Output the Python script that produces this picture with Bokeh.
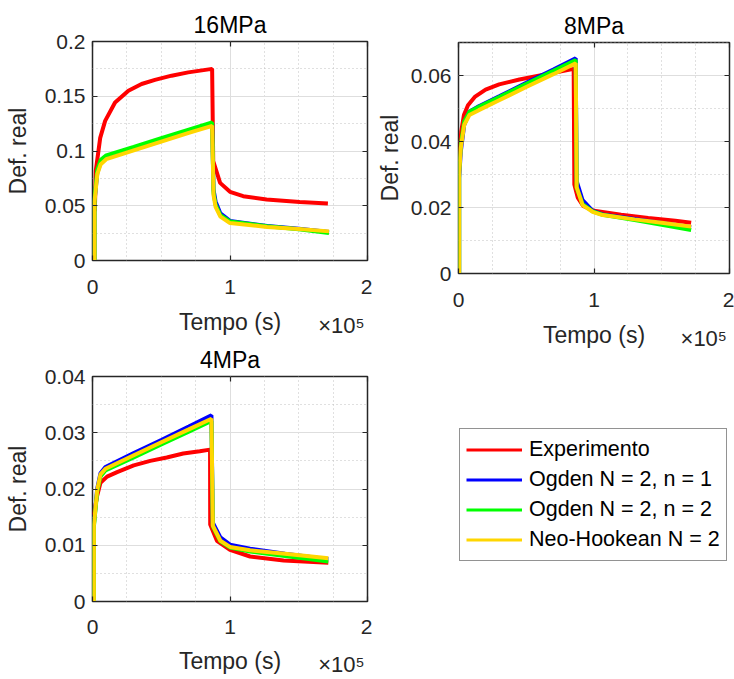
from bokeh.plotting import figure
from bokeh.layouts import row, column
from bokeh.models import (Range1d, SingleIntervalTicker, FixedTicker, LinearAxis,
                          Legend, LegendItem, CustomJSTickFormatter)
from bokeh.embed import file_html
from bokeh.resources import INLINE

# ---------------- data (time in units of 1e5 s) ----------------
series_names = ["Experimento", "Ogden N = 2, n = 1", "Ogden N = 2, n = 2", "Neo-Hookean N = 2"]
series_colors = ["#FF0000", "#0000FF", "#00FF00", "#FFD600"]

# 16 MPa
t16_exp = [0.017, 0.024, 0.056, 0.092, 0.164, 0.261, 0.357, 0.454, 0.575, 0.696, 0.87,
           0.878, 0.928, 1.0, 1.096, 1.266, 1.507, 1.712]
y16_exp = [0.045, 0.082, 0.112, 0.1275, 0.1443, 0.155, 0.1612, 0.1649, 0.1688, 0.1718, 0.175,
           0.0908, 0.0709, 0.0627, 0.0587, 0.0557, 0.0535, 0.052]
t16_mod = [0.015, 0.015, 0.035, 0.06, 0.1, 0.3, 0.5, 0.7, 0.87,
           0.88, 0.895, 0.93, 1.0, 1.27, 1.5, 1.72]
y16_og1 = [0, 0.055, 0.080, 0.090, 0.095, 0.1027, 0.1105, 0.1183, 0.125,
           0.065, 0.054, 0.043, 0.0362, 0.0315, 0.029, 0.026]
y16_og2 = [0, 0.057, 0.083, 0.092, 0.096, 0.1038, 0.1117, 0.1195, 0.126,
           0.062, 0.051, 0.0415, 0.0357, 0.0312, 0.0285, 0.0252]
y16_neo = [0, 0.054, 0.079, 0.088, 0.0925, 0.1005, 0.1085, 0.1165, 0.123,
           0.060, 0.049, 0.040, 0.0342, 0.0306, 0.0287, 0.0266]

# 8 MPa
t8_exp = [0.005, 0.02, 0.04, 0.07, 0.12, 0.2, 0.3, 0.45, 0.6, 0.75, 0.85,
          0.855, 0.88, 0.92, 1.0, 1.2, 1.4, 1.6, 1.717]
y8_exp = [0.034, 0.043, 0.048, 0.051, 0.0535, 0.0557, 0.0573, 0.0588, 0.060, 0.0612, 0.062,
          0.027, 0.023, 0.0205, 0.019, 0.0178, 0.0168, 0.016, 0.0154]
t8_mod = [0.005, 0.005, 0.017, 0.042, 0.08, 0.15, 0.3, 0.5, 0.7, 0.865,
          0.872, 0.916, 0.99, 1.064, 1.3, 1.5, 1.717]
y8_og1 = [0, 0.029, 0.037, 0.045, 0.049, 0.0507, 0.0537, 0.0578, 0.0618, 0.0652,
          0.028, 0.0222, 0.019, 0.0179, 0.0165, 0.0153, 0.014]
y8_og2 = [0, 0.031, 0.039, 0.046, 0.049, 0.0505, 0.0535, 0.0575, 0.0614, 0.0647,
          0.026, 0.021, 0.0188, 0.0178, 0.0162, 0.0148, 0.0132]
y8_neo = [0, 0.030, 0.038, 0.045, 0.048, 0.0495, 0.0525, 0.0565, 0.0604, 0.0637,
          0.0262, 0.0207, 0.0187, 0.0177, 0.0164, 0.0154, 0.0142]

# 4 MPa
t4_exp = [0.01, 0.034, 0.058, 0.106, 0.179, 0.3, 0.42, 0.54, 0.66, 0.78, 0.855,
          0.856, 0.905, 1.0, 1.146, 1.39, 1.715]
y4_exp = [0.0154, 0.0188, 0.0211, 0.0222, 0.023, 0.0242, 0.025, 0.0256, 0.0263, 0.0267, 0.027,
          0.0137, 0.0108, 0.0092, 0.008, 0.0073, 0.0069]
t4_mod = [0.01, 0.01, 0.034, 0.058, 0.094, 0.3, 0.5, 0.7, 0.865,
          0.875, 0.93, 1.0, 1.146, 1.4, 1.715]
y4_og1 = [0, 0.0137, 0.020, 0.0228, 0.0239, 0.0264, 0.0287, 0.0311, 0.0331,
          0.0140, 0.0114, 0.0101, 0.0094, 0.0085, 0.0075]
y4_og2 = [0, 0.0133, 0.0195, 0.0222, 0.0233, 0.0256, 0.0279, 0.0302, 0.0321,
          0.0133, 0.0107, 0.0096, 0.0089, 0.0081, 0.0071]
y4_neo = [0, 0.0135, 0.0198, 0.0226, 0.0236, 0.026, 0.0283, 0.0306, 0.0325,
          0.0135, 0.0108, 0.0097, 0.0091, 0.0085, 0.0077]

x_exponent_label = "×10⁵"

# ---------------- styling ----------------
FONT = "Liberation Sans"
AX = "#262626"
LW = 4


def num_fmt():
    return CustomJSTickFormatter(code="return String(Math.round(tick*1e6)/1e6);")


def make_panel(title, ymax, yint, tex, yex, tmod, ymods, fw, fh, mbl, mbr, mbt, mbb,
               ylab_standoff, xtick_standoff, xlab_standoff):
    p = figure(width=mbl + fw + mbr, height=mbt + fh + mbb,
               output_backend="svg", toolbar_location=None,
               x_range=Range1d(0, 2), y_range=Range1d(0, ymax),
               min_border_left=mbl, min_border_right=mbr,
               min_border_top=mbt, min_border_bottom=mbb)
    p.background_fill_color = "white"
    p.border_fill_color = "white"
    p.outline_line_color = AX
    p.outline_line_width = 1.5

    xt = SingleIntervalTicker(interval=1, num_minor_ticks=4)
    yt = SingleIntervalTicker(interval=yint, num_minor_ticks=2)
    p.xaxis.ticker = xt
    p.yaxis.ticker = yt
    p.xaxis.formatter = num_fmt()
    p.yaxis.formatter = num_fmt()
    p.xaxis.axis_label = "Tempo (s)"
    p.yaxis.axis_label = "Def. real"
    for ax in (p.xaxis[0], p.yaxis[0]):
        ax.axis_line_color = None
        ax.major_tick_in = 5
        ax.major_tick_out = 0
        ax.minor_tick_in = 0
        ax.minor_tick_out = 0
        ax.major_tick_line_color = AX
        ax.major_tick_line_width = 1.2
        ax.major_label_text_font = FONT
        ax.major_label_text_font_size = "21px"
        ax.major_label_text_color = AX
        ax.axis_label_text_font = FONT
        ax.axis_label_text_font_size = "23px"
        ax.axis_label_text_font_style = "normal"
        ax.axis_label_text_color = AX
    p.xaxis.major_label_standoff = xtick_standoff
    p.xaxis.axis_label_standoff = xlab_standoff
    p.yaxis.major_label_standoff = 7
    p.yaxis.axis_label_standoff = ylab_standoff

    for side, tk in (("above", xt), ("right", yt)):
        ax = LinearAxis(ticker=tk, formatter=CustomJSTickFormatter(code="return '';"),
                        major_label_text_font_size="0px", major_label_standoff=0,
                        major_tick_in=5, major_tick_out=0, minor_tick_in=0, minor_tick_out=0,
                        axis_line_color=None, major_tick_line_color=AX,
                        major_tick_line_width=1.2)
        p.add_layout(ax, side)

    # exponent of the time axis, drawn as the single tick label of a second bottom axis
    ex = LinearAxis(ticker=FixedTicker(ticks=[1.81]),
                    formatter=CustomJSTickFormatter(code="return '%s';" % x_exponent_label),
                    major_label_text_font=FONT, major_label_text_font_size="22px",
                    major_label_text_color=AX, major_label_standoff=-25,
                    major_tick_in=0, major_tick_out=0, minor_tick_in=0, minor_tick_out=0,
                    axis_line_color=None, major_tick_line_color=None)
    p.add_layout(ex, "below")

    for g in (p.xgrid[0], p.ygrid[0]):
        g.grid_line_color = "#dedede"
        g.grid_line_width = 1
        g.minor_grid_line_color = "#c0c0c0"
        g.minor_grid_line_dash = "1 3"
        g.minor_grid_line_width = 1

    p.title.text = title
    p.title.align = "center"
    p.title.text_font = FONT
    p.title.text_font_size = "23px"
    p.title.text_font_style = "normal"
    p.title.text_color = "#000000"
    p.title.standoff = 7

    p.line(tex, yex, line_color=series_colors[0], line_width=LW)
    for ym, c in zip(ymods, series_colors[1:]):
        p.line(tmod, ym, line_color=c, line_width=LW)
    return p


p1 = make_panel("16MPa", 0.2, 0.05, t16_exp, y16_exp, t16_mod, [y16_og1, y16_og2, y16_neo],
                275, 219, 92, 5, 41, 81, 11, 19, 12)
p3 = make_panel("4MPa", 0.04, 0.01, t4_exp, y4_exp, t4_mod, [y4_og1, y4_og2, y4_neo],
                275, 233, 92, 5, 31, 74, 11, 18, 11)
p2 = make_panel("8MPa", 0.07, 0.02, t8_exp, y8_exp, t8_mod, [y8_og1, y8_og2, y8_neo],
                271, 231, 86, 5, 42, 83, 5, 19, 12)

# legend panel (its frame lines up with the 8MPa frame above it)
pl = figure(width=362, height=323, output_backend="svg", toolbar_location=None,
            x_axis_type=None, y_axis_type=None, x_range=Range1d(-3, -2), y_range=Range1d(0, 1),
            min_border_left=86, min_border_right=5, min_border_top=0, min_border_bottom=0)
pl.outline_line_color = None
pl.background_fill_color = "white"
pl.border_fill_color = "white"
items = []
for name, c, ys in zip(series_names, series_colors, [y4_exp, y4_og1, y4_og2, y4_neo]):
    r = pl.line(list(range(len(ys))), ys, line_color=c, line_width=3.2)
    items.append(LegendItem(label=name, renderers=[r]))
leg = Legend(items=items, location=(1, 118), orientation="vertical",
             label_text_font=FONT, label_text_font_size="21.5px", label_text_color="#000000",
             border_line_color=AX, border_line_width=1, background_fill_color="white",
             background_fill_alpha=1, padding=6, spacing=1, margin=0,
             glyph_width=56, glyph_height=29, label_height=29, label_standoff=7)
pl.add_layout(leg)

layout = row(column(p1, p3), column(p2, pl))
open("out.html", "w").write(file_html(layout, INLINE))
